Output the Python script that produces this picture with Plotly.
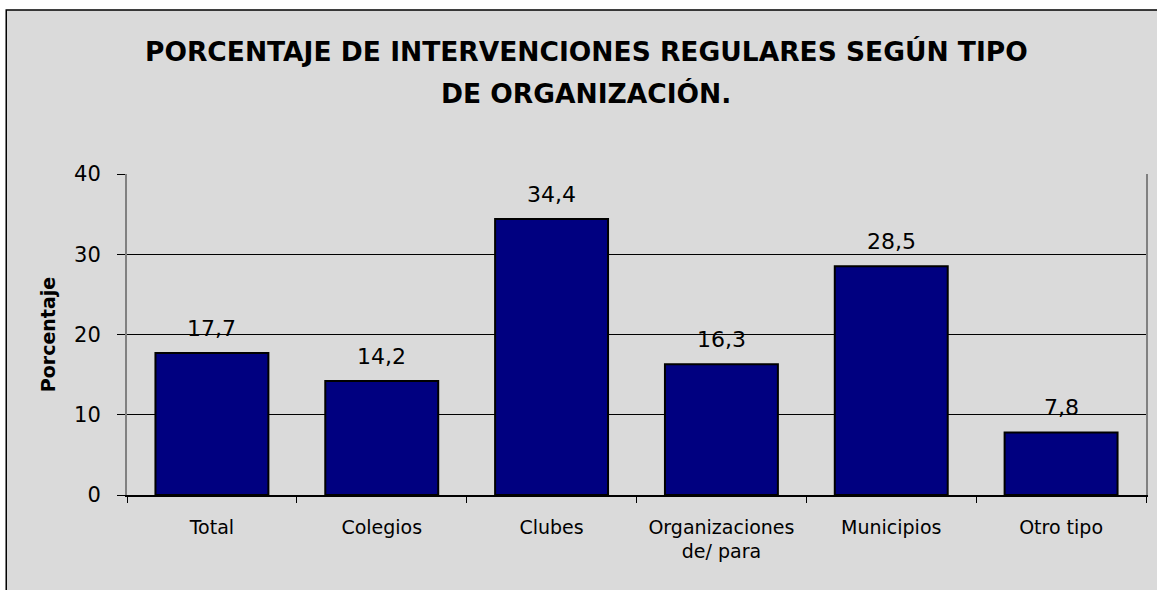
import plotly.graph_objects as go

categories = ["Total", "Colegios", "Clubes", "Organizaciones<br>de/ para", "Municipios", "Otro tipo"]
values = [17.7, 14.2, 34.4, 16.3, 28.5, 7.8]
labels = ["17,7", "14,2", "34,4", "16,3", "28,5", "7,8"]
y_ticks = [0, 10, 20, 30, 40]
title_lines = ["PORCENTAJE DE INTERVENCIONES REGULARES SEGÚN TIPO", "DE ORGANIZACIÓN."]

W, H = 1157, 590
L, R, T, B = 127, 9, 174, 95
pw, ph = W - L - R, H - T - B

def px_x(px):
    return (px - L) / pw

def px_y(py):
    return (H - B - py) / ph

FONT = "DejaVu Sans"

fig = go.Figure()
fig.add_trace(go.Bar(
    x=categories, y=values, width=0.665,
    marker=dict(color="#000080", line=dict(color="black", width=2)),
    hoverinfo="skip",
))

annotations = []
for c, v, t in zip(categories, values, labels):
    annotations.append(dict(x=c, y=v, xref="x", yref="y", text=t, showarrow=False,
                            yanchor="bottom", yshift=10,
                            font=dict(family=FONT, size=22, color="black")))

for line, cy in zip(title_lines, [51, 93]):
    annotations.append(dict(x=px_x(587), y=px_y(cy), xref="paper", yref="paper",
                            text="<b>" + line + "</b>",
                            showarrow=False, xanchor="center", yanchor="middle",
                            font=dict(family=FONT, size=26.5, color="black")))

annotations.append(dict(x=px_x(48), y=px_y(335), xref="paper", yref="paper",
                        text="<b>Porcentaje</b>", textangle=-90, showarrow=False,
                        xanchor="center", yanchor="middle",
                        font=dict(family=FONT, size=19, color="black")))

shapes = [dict(type="rect", xref="paper", yref="paper", layer="below",
               x0=px_x(6), x1=px_x(1165), y0=px_y(10), y1=px_y(600),
               fillcolor="#dadada", line=dict(color="black", width=1.5))]

fig.update_layout(
    width=W, height=H,
    margin=dict(l=L, r=R, t=T, b=B, pad=0),
    paper_bgcolor="white", plot_bgcolor="rgba(0,0,0,0)",
    showlegend=False,
    annotations=annotations, shapes=shapes,
    bargap=0.335,
)
fig.update_xaxes(
    showline=True, linecolor="black", linewidth=1.5,
    ticks="outside", ticklen=6, tickcolor="black", tickson="boundaries",
    showgrid=False, ticklabelstandoff=14,
    tickfont=dict(family=FONT, size=19, color="black"),
)
fig.update_yaxes(
    range=[0, 40], tickvals=y_ticks, ticktext=[str(v) for v in y_ticks],
    showline=True, linecolor="#808080", linewidth=2, mirror=True,
    ticks="outside", ticklen=8, tickcolor="black",
    showgrid=True, gridcolor="black", gridwidth=1,
    zeroline=False, ticklabelstandoff=12,
    tickfont=dict(family=FONT, size=21, color="black"),
)

fig.write_html("out.html", config={"displayModeBar": False},
               post_script="document.body.style.margin='0';document.body.style.overflow='hidden';")
